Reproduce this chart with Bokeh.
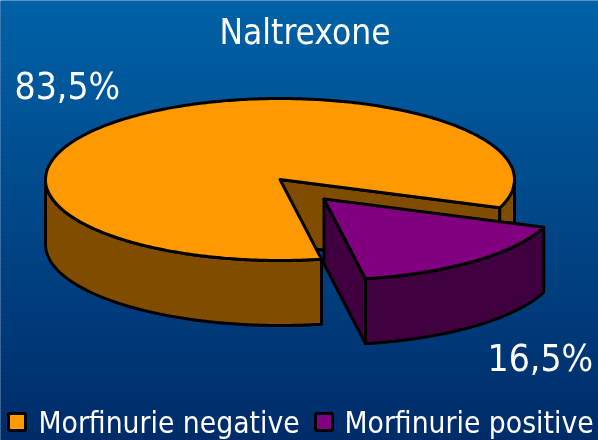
import numpy as np
from bokeh.embed import file_html
from bokeh.plotting import figure
from bokeh.resources import INLINE
from bokeh.core.properties import value

title = "Naltrexone"
categories = ["Morfinurie negative", "Morfinurie positive"]
shares = [83.5, 16.5]
share_labels = ["83,5%", "16,5%"]
top_colors = ["#FF9900", "#800080"]
side_colors = ["#7F4C00", "#400040"]

W, H = 598, 440
FONT = "DejaVu Sans Condensed"
CX, CY, RX, RY, DEPTH = 279.5, 179.0, 234.5, 81.0, 65.0
EXPLODE = (44.0, 19.5)
START = 20.4  # degrees clockwise from east where the small slice starts

p = figure(width=W, height=H, x_range=(0, W), y_range=(H, 0), toolbar_location=None,
           output_backend="svg", min_border=0, outline_line_color=None,
           x_axis_location=None, y_axis_location=None,
           background_fill_color="#00468A", border_fill_color="#00468A")
p.grid.visible = False
p.styles = {"position": "fixed", "left": "0", "top": "0"}

# background gradient
ys = np.arange(0, H, 4)
t = ys / H
cols = ["#%02x%02x%02x" % (0, int(98 - 55 * k), int(167 - 62 * k)) for k in t]
p.quad(left=-2, right=W + 2, top=ys, bottom=ys + 4.5, fill_color=cols, line_color=None)

LW = 3
def pt(deg, cx=CX, cy=CY):
    a = np.radians(deg)
    return cx + RX * np.cos(a), cy + RY * np.sin(a)

def arc(a0, a1, cx=CX, cy=CY, n=120):
    return pt(np.linspace(a0, a1, n), cx, cy)

def rim(a0, a1, color, cx=CX, cy=CY):
    x, y = arc(a0, a1, cx, cy)
    p.patch(np.r_[x, x[::-1]], np.r_[y, y[::-1] + DEPTH], fill_color=color,
            line_color="black", line_width=LW, line_join="round")

def face(pts, color):
    p.patch([q[0] for q in pts], [q[1] for q in pts], fill_color=color,
            line_color="black", line_width=LW, line_join="round")

small_span = shares[1] / sum(shares) * 360
a_s, a_e = START, START + small_span

# orange slice: cut face, side rims, top
e1 = pt(a_s)
face([(CX, CY), e1, (e1[0], e1[1] + DEPTH), (CX, CY + DEPTH)], side_colors[0])
rim(0, a_s, side_colors[0])
rim(a_e, 180, side_colors[0])
x, y = arc(a_e, a_s + 360, n=400)
p.patch(np.r_[CX, x], np.r_[CY, y], fill_color=top_colors[0], line_color="black",
        line_width=LW, line_join="round")

# exploded purple slice
ax, ay = CX + EXPLODE[0], CY + EXPLODE[1]
e2 = pt(a_e, ax, ay)
face([(ax, ay), e2, (e2[0], e2[1] + DEPTH), (ax, ay + DEPTH)], side_colors[1])
rim(a_s, a_e, side_colors[1], ax, ay)
x, y = arc(a_s, a_e, ax, ay)
p.patch(np.r_[ax, x], np.r_[ay, y], fill_color=top_colors[1], line_color="black",
        line_width=LW, line_join="round")

def label(x, y, s, size):
    p.text([x], [y], text=[s], text_color="white", text_font=value(FONT),
           text_font_size=f"{size}px", text_align="left", text_baseline="middle")

label(219, 31, title, 35)
label(14, 86, share_labels[0], 37)
label(487, 358, share_labels[1], 37)

for sx, tx, cat, col in zip([8, 315], [38, 344], categories, top_colors):
    p.quad(left=[sx], right=[sx + 17], top=[413], bottom=[430], fill_color=col,
           line_color="black", line_width=3)
    label(tx, 422, cat, 29.7)

open("out.html", "w").write(file_html(p, INLINE))
